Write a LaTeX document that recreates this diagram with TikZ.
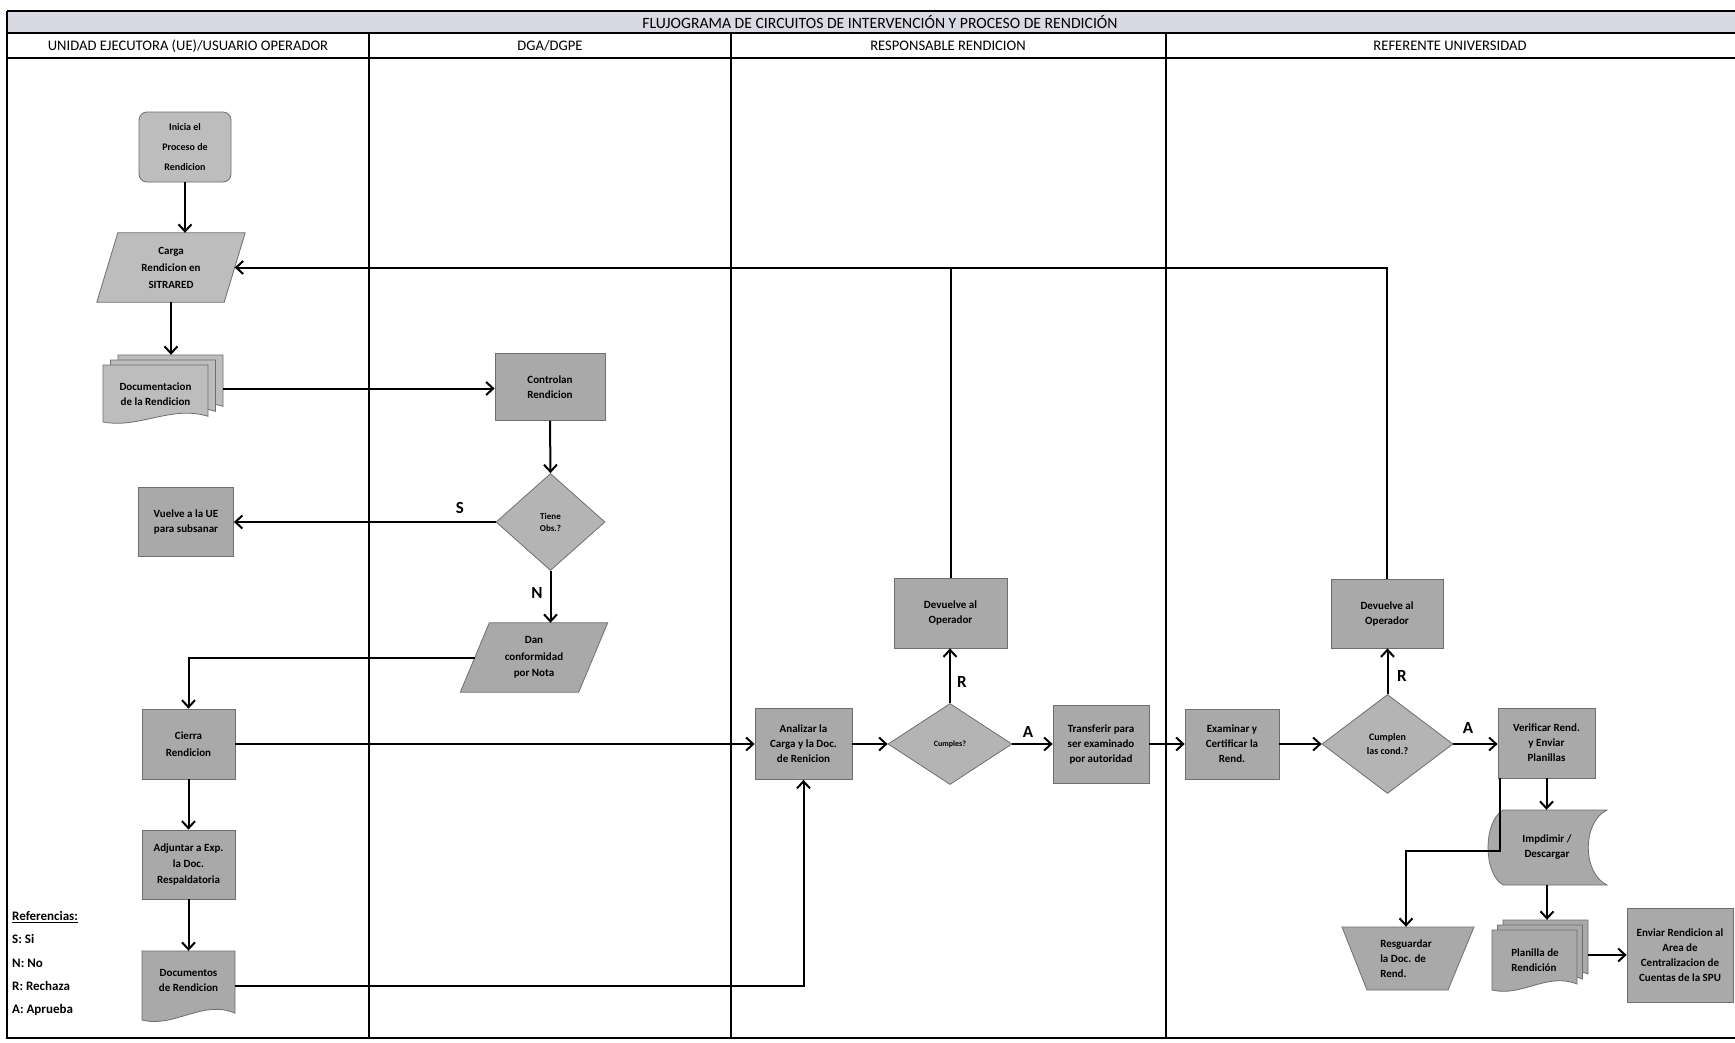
\documentclass[tikz,border=0pt]{standalone}
\usepackage{fontspec}
\setmainfont{Carlito}
\usetikzlibrary{arrows.meta,calc,backgrounds,shapes.geometric}

\definecolor{bandc}{HTML}{D9D9E3}
\definecolor{boxc}{HTML}{A9A9A9}
\definecolor{lightc}{HTML}{BDBDBD}
\definecolor{diac}{HTML}{B4B4B4}
\definecolor{edgec}{HTML}{6E6E6E}

\newcommand{\ntxt}{\bfseries\fontsize{11}{15}\selectfont}
% page with wavy bottom: [fill] x y w h
\newcommand{\pagedoc}[5][lightc]{%
  \filldraw[bg, fill=#1] (#2,#3) -- ({#2+#4},#3) -- ({#2+#4},{#3+0.9*#5})
    .. controls ({#2+0.65*#4},{#3+0.7*#5}) and ({#2+0.35*#4},{#3+1.12*#5}) .. (#2,{#3+#5}) -- cycle;}

\tikzset{
 proc/.style={draw=edgec, line width=0.8pt, fill=boxc, align=center, font=\ntxt, inner sep=1pt},
 dec/.style={diamond, draw=edgec, line width=0.8pt, fill=diac, align=center, inner sep=0pt, font=\bfseries\fontsize{9}{12}\selectfont},
 ghost/.style={inner sep=0pt, align=center, font=\ntxt},
 bg/.style={draw=edgec, line width=0.8pt, fill=boxc},
 conn/.style={line width=2pt},
 arr/.style={conn, -{Straight Barb[length=7pt,width=13pt,line width=2pt]}},
 flag/.style={font=\bfseries\fontsize{17}{17}\selectfont, inner sep=0pt},
 hdr/.style={font=\fontsize{14.6}{16}\selectfont, inner sep=0pt},
 leg/.style={font=\bfseries\fontsize{13}{14}\selectfont, anchor=west, inner sep=0pt},
 lane/.style={line width=2pt},
}

\begin{document}
\begin{tikzpicture}[x=1pt,y=-1pt]
\useasboundingbox (0,0) rectangle (1735,1042);

% ---- frame, title band, lane headers
\fill[bandc] (7,11) rectangle (1735,33);
\draw[lane] (7,11) -- (1735,11);
\draw[line width=1.6pt] (7,33) -- (1735,33);
\draw[lane] (7,58) -- (1735,58);
\draw[lane] (7,11) -- (7,1038) -- (1735,1038);
\foreach \x in {369,731,1166} \draw[lane] (\x,33) -- (\x,1038);

\node[hdr, font=\fontsize{15.7}{16}\selectfont] (title) at (880,22) {FLUJOGRAMA DE CIRCUITOS DE INTERVENCIÓN Y PROCESO DE RENDICIÓN};
\node[hdr] (h1) at (188,46) {UNIDAD EJECUTORA (UE)/USUARIO OPERADOR};
\node[hdr] (h2) at (550,46) {DGA/DGPE};
\node[hdr] (h3) at (948,46) {RESPONSABLE RENDICION};
\node[hdr] (h4) at (1450,46) {REFERENTE UNIVERSIDAD};

% ---- lane 1
\node[proc, rounded corners=8pt, fill=lightc, minimum width=92pt, minimum height=70pt,
      font=\bfseries\fontsize{10}{20}\selectfont] (ini) at (185,147) {Inicia el\\Proceso de\\Rendicion};
\node[ghost, minimum width=127pt, minimum height=69pt, font=\bfseries\fontsize{11}{17}\selectfont]
      (carga) at (171,267.5) {Carga\\Rendicion en\\SITRARED};
\node[ghost, minimum width=120pt, minimum height=67pt] (docu) at (163,388.5) {};
\node[ghost] (docutxt) at (155.5,394) {Documentacion\\de la Rendicion};
\node[proc, minimum width=95pt, minimum height=69pt] (vuelve) at (186,522) {Vuelve a la UE\\para subsanar};
\node[proc, minimum width=93pt, minimum height=70pt, font=\bfseries\fontsize{11}{17}\selectfont]
      (cierra) at (188.5,744) {Cierra\\Rendicion};
\node[proc, minimum width=93pt, minimum height=69pt, font=\bfseries\fontsize{11}{16}\selectfont]
      (adj) at (188.5,864.5) {Adjuntar a Exp.\\la Doc.\\Respaldatoria};
\node[ghost, minimum width=93pt, minimum height=69pt] (docs) at (188.5,985.5) {};
\node[ghost] (docstxt) at (188.5,980) {Documentos\\de Rendicion};

% ---- lane 2
\node[proc, minimum width=110pt, minimum height=67pt] (ctrl) at (550,387) {Controlan\\Rendicion};
\node[dec, minimum width=109pt, minimum height=97pt] (obs) at (550.5,522) {Tiene\\Obs.?};
\node[ghost, minimum width=118pt, minimum height=69pt, font=\bfseries\fontsize{11}{16.5}\selectfont]
      (dan) at (534,657.5) {Dan\\conformidad\\por Nota};

% ---- lane 3
\node[proc, minimum width=97pt, minimum height=71pt] (anal) at (803.5,744) {Analizar la\\Carga y la Doc.\\de Renicion};
\node[dec, minimum width=124pt, minimum height=81pt, font=\bfseries\fontsize{8}{10}\selectfont] (cump) at (950,744) {Cumples?};
\node[proc, minimum width=113pt, minimum height=70pt] (dev1) at (950.5,613) {Devuelve al\\Operador};
\node[proc, minimum width=96pt, minimum height=78pt] (trans) at (1101,744) {Transferir para\\ser examinado\\por autoridad};

% ---- lane 4
\node[proc, minimum width=94pt, minimum height=70pt] (exam) at (1232,744) {Examinar y\\Certificar la\\Rend.};
\node[dec, minimum width=131pt, minimum height=99pt, font=\bfseries\fontsize{10}{14}\selectfont] (cump2) at (1387.5,744) {Cumplen\\las cond.?};
\node[proc, minimum width=112pt, minimum height=69pt] (dev2) at (1387,613.5) {Devuelve al\\Operador};
\node[proc, minimum width=97pt, minimum height=70pt] (verif) at (1546.5,743) {Verificar Rend.\\y Enviar\\Planillas};
\node[ghost, minimum width=119pt, minimum height=75pt] (imp) at (1547,847.5) {Impdimir /\\Descargar};
\node[ghost, minimum width=132pt, minimum height=63pt, align=left] (resg) at (1406,958.5) {Resguardar\\la Doc. de\\Rend.};
\node[ghost, minimum width=96pt, minimum height=70pt] (plan) at (1540,955) {};
\node[ghost, align=left] (plantxt) at (1535,960) {Planilla de\\Rendición};
\node[proc, minimum width=106pt, minimum height=94pt] (env) at (1680,955) {Enviar Rendicion al\\Area de\\Centralizacion de\\Cuentas de la SPU};

% ---- drawn shapes (behind the texts)
\begin{scope}[on background layer]
  \fill[white] (0,0) rectangle (1735,1042);
  \filldraw[bg, fill=lightc] ($(carga.north west)+(10.5,0)$) -- ($(carga.north east)+(10.5,0)$)
     -- ($(carga.south east)+(-10.5,0)$) -- ($(carga.south west)+(-10.5,0)$) -- cycle;
  \pagedoc{118}{355}{105}{57}
  \pagedoc{110.5}{360}{105}{57}
  \pagedoc{103}{365}{105}{57}
  \pagedoc[boxc]{142}{951}{93}{69}
  \filldraw[bg] ($(dan.north west)+(14.5,0)$) -- ($(dan.north east)+(14.5,0)$)
     -- ($(dan.south east)+(-14.5,0)$) -- ($(dan.south west)+(-14.5,0)$) -- cycle;
  \filldraw[bg] (1503,810) -- (1607,810) .. controls (1582,822) and (1582,873) .. (1607,885)
     -- (1503,885) .. controls (1483,873) and (1483,822) .. (1503,810) -- cycle;
  \filldraw[bg] (1342,927) -- (1474,927) -- (1448,990) -- (1367,990) -- cycle;
  \pagedoc[boxc]{1503}{920}{85}{60}
  \pagedoc[boxc]{1497.5}{925}{85}{60}
  \pagedoc[boxc]{1492}{930}{85}{60}
\end{scope}

% ---- connectors
\draw[arr] (ini.south) -- (ini.south |- carga.north);
\draw[arr] (carga.south) -- (carga.south |- docu.north);
\draw[arr] (docu.east) -- (docu.east -| ctrl.west);
\draw[arr] (ctrl.south) -- (obs.north);
\draw[arr] (obs.west) -- (obs.west -| vuelve.east);
\draw[arr] (obs.south) -- (obs.south |- dan.north);
\draw[arr] (dan.west) -| (cierra.north);
\draw[arr] (cierra.east) -- (cierra.east -| anal.west);
\draw[arr] (cierra.south) -- (adj.north);
\draw[arr] (adj.south) -- (adj.south |- docs.north);
\draw[arr] (docs.east) -| (anal.south);
\draw[arr] (anal.east) -- (cump.west);
\draw[arr] (cump.north) -- (cump.north |- dev1.south);
\draw[arr] (cump.east) -- (trans.west);
\draw[arr] (trans.east) -- (exam.west);
\draw[arr] (exam.east) -- (cump2.west);
\draw[arr] (cump2.north) -- (cump2.north |- dev2.south);
\draw[arr] (cump2.east) -- (cump2.east -| verif.west);
\draw[arr] (dev2.north) |- (carga.east);
\draw[conn] (dev1.north) -- (dev1.north |- carga.east);
\draw[arr] (verif.south) -- (verif.south |- imp.north);
\draw[arr] ($(verif.south west)+(2,0)$) -- ++(0,73) -| (resg.north);
\draw[arr] (imp.south) -- (imp.south |- plan.north);
\draw[arr] (plan.east) -- (plan.east -| env.west);

% ---- connector labels
\node[flag] (lS) at (460,508) {S};
\node[flag] (lN) at (537,593) {N};
\node[flag] (lR1) at (962,682) {R};
\node[flag] (lA1) at (1028,732) {A};
\node[flag] (lR2) at (1402,676) {R};
\node[flag] (lA2) at (1468,728) {A};

% ---- legend
\node[leg] (ref) at (12,917) {\underline{Referencias:}};
\node[leg] (ls) at (12,939) {S: Si};
\node[leg] (ln) at (12,963) {N: No};
\node[leg] (lr) at (12,986) {R: Rechaza};
\node[leg] (la) at (12,1010) {A: Aprueba};
\end{tikzpicture}
\end{document}
